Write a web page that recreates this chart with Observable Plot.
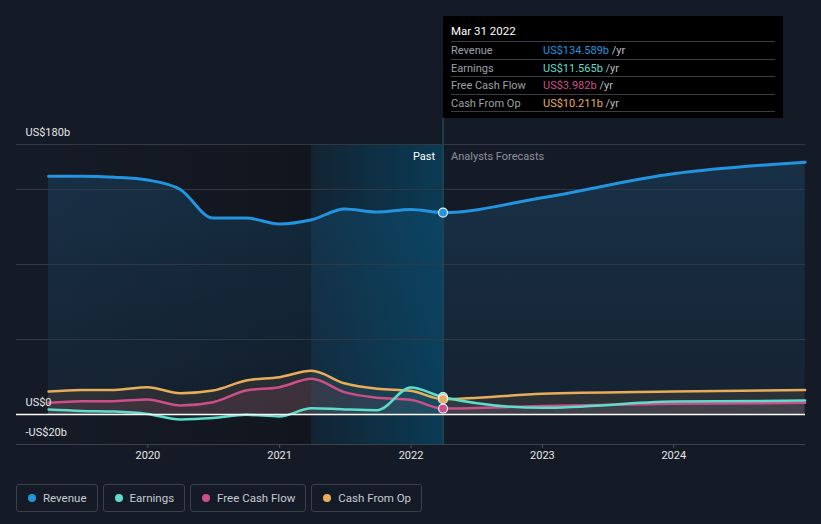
<!DOCTYPE html>
<html>
<head>
<meta charset="utf-8">
<script src="https://cdn.jsdelivr.net/npm/d3@7"></script>
<script src="https://cdn.jsdelivr.net/npm/@observablehq/plot@0.6"></script>
<style>
  html, body { margin: 0; padding: 0; background: #151b26; }
  body { font-family: Roboto, "Noto Sans", sans-serif; }
  #wrap { position: relative; width: 821px; height: 524px; overflow: hidden; }
  #tip { position: absolute; left: 443px; top: 16px; width: 340px; height: 102px; background: #000; box-sizing: border-box; padding: 7px 8px 0 8px; font-size: 11px; }
  #tip .title { color: #fff; height: 16px; line-height: 16px; margin-bottom: 2px; font-size: 11.5px; }
  #tip .row { height: 17.5px; line-height: 17px; border-top: 1px solid #3a3d42; box-sizing: border-box; display: flex; }
  #tip .row:last-child { border-bottom: 1px solid #3a3d42; height: 18.5px; }
  #tip .lab { width: 92px; color: #9ca0a7; }
  #tip .unit { color: #b8bcc2; }
  #legend { position: absolute; left: 16px; top: 484px; display: flex; gap: 5px; }
  #legend .item { height: 28px; box-sizing: border-box; border: 1px solid #3a3f48; border-radius: 3px; display: flex; align-items: center; padding: 0 10px 0 11px; color: #c6cad1; font-size: 11.5px; }
  #legend .dot { width: 8px; height: 8px; border-radius: 50%; margin-right: 7px; }
</style>
</head>
<body>
<div id="wrap">
  <div id="chart"></div>
  <div id="tip"></div>
  <div id="legend"></div>
</div>
<script>
// ---- data (US$ billions) ----
const dates = [
  "2019-03-31", "2019-06-30", "2019-09-30", "2019-12-31",
  "2020-03-31", "2020-06-30", "2020-09-30", "2020-12-31",
  "2021-03-31", "2021-06-30", "2021-09-30", "2021-12-31",
  "2022-03-31",
  "2022-12-31", "2023-12-31", "2024-12-31"
];
const revenue      = [158.9, 158.9, 158.2, 156.3, 150.0, 131.0, 131.0, 127.0, 129.8, 137.0, 135.0, 136.6, 134.589, 144.5, 160.5, 168.2];
const earnings     = [3.3, 2.4, 2.0, 0.4, -3.3, -2.4, -0.2, -1.3, 4.2, 3.4, 2.9, 18.0, 11.565, 4.5, 8.6, 9.3];
const freeCashFlow = [7.8, 8.9, 8.9, 10.0, 6.0, 8.2, 16.0, 18.2, 23.8, 14.9, 11.1, 9.8, 3.982, 5.6, 7.1, 7.8];
const cashFromOp   = [15.3, 16.4, 16.4, 18.2, 14.2, 16.0, 22.7, 24.9, 29.1, 20.8, 17.1, 15.8, 10.211, 13.8, 15.3, 16.4];

const seriesNames = ["Revenue", "Earnings", "Free Cash Flow", "Cash From Op"];
const seriesColors = ["#2394df", "#5fdccb", "#cc4f8a", "#e8ad5a"];
const yTickValues = [180, 0, -20];
const yTickLabels = ["US$180b", "US$0", "-US$20b"];
const gridValues = [50, 100, 150, 180];
const xTickDates = ["2020-01-01", "2021-01-01", "2022-01-01", "2023-01-01", "2024-01-01"];
const xDomain = ["2019-01-01", "2025-01-01"];
const pastIndex = 12;      // Mar 31 2022 (last reported)
const bandStartIndex = 8;  // Mar 31 2021
const tipTitle = "Mar 31 2022";
const tipValues = ["US$134.589b", "US$11.565b", "US$3.982b", "US$10.211b"];

// ---- build table ----
const parse = d3.utcParse("%Y-%m-%d");
const table = dates.map((d, i) => ({
  date: parse(d),
  revenue: revenue[i], earnings: earnings[i], fcf: freeCashFlow[i], cfo: cashFromOp[i]
}));
const current = table[pastIndex];
const bandStart = table[bandStartIndex].date;
const keys = ["revenue", "earnings", "fcf", "cfo"];
const curve = "monotone-x";

const marks = [
  // past darkening
  Plot.rect([0], {x1: table[0].date, x2: bandStart, y1: -20, y2: 180, fill: "url(#pastGrad)"}),
  // areas
  Plot.areaY(table, {x: "date", y: "revenue", curve, fill: "url(#revGrad)"}),
  Plot.areaY(table, {x: "date", y: "cfo", curve, fill: seriesColors[3], fillOpacity: 0.1}),
  Plot.areaY(table, {x: "date", y: "fcf", curve, fill: seriesColors[2], fillOpacity: 0.12}),
  Plot.areaY(table, {x: "date", y: "earnings", curve, fill: seriesColors[1], fillOpacity: 0.08}),
  // highlighted last-year band
  Plot.rect([0], {x1: bandStart, x2: current.date, y1: -20, y2: 180, fill: "url(#bandGrad)"}),
  // grid
  Plot.ruleY(gridValues, {stroke: "#323843", strokeWidth: 1}),
  Plot.ruleY([-20], {stroke: "#3c424c", strokeWidth: 1}),
  // vertical marker line
  Plot.ruleX([current.date], {y1: -20, y2: 197.3, stroke: "#1d4a5b", strokeWidth: 1.5}),
  // lines
  Plot.lineY(table, {x: "date", y: "cfo", curve, stroke: seriesColors[3], strokeWidth: 2.5}),
  Plot.lineY(table, {x: "date", y: "fcf", curve, stroke: seriesColors[2], strokeWidth: 2.5}),
  Plot.lineY(table, {x: "date", y: "earnings", curve, stroke: seriesColors[1], strokeWidth: 2.5}),
  Plot.lineY(table, {x: "date", y: "revenue", curve, stroke: seriesColors[0], strokeWidth: 3}),
  Plot.ruleY([0], {stroke: "#ffffff", strokeWidth: 1.5}),
  // dots at current date
  ...[1, 3, 2, 0].map(k => Plot.dot([current], {x: "date", y: keys[k], r: 4.5, fill: seriesColors[k], stroke: "#e8eef5", strokeWidth: 1.2})),
  // y labels
  Plot.text(yTickValues, {y: d => d, text: (d, i) => yTickLabels[i], frameAnchor: "left", dx: 9, dy: -12, textAnchor: "start", fill: "#e6e6e6", fontSize: 11}),
  // Past / forecast labels
  Plot.text([current], {x: "date", y: () => 180, text: () => "Past", dx: -8, dy: 12, textAnchor: "end", fill: "#ffffff", fontSize: 11}),
  Plot.text([current], {x: "date", y: () => 180, text: () => "Analysts Forecasts", dx: 8, dy: 12, textAnchor: "start", fill: "#8c9199", fontSize: 11}),
  // x axis
  Plot.axisX({ticks: xTickDates.map(parse), tickFormat: d3.utcFormat("%Y"), tickSize: 4, tickPadding: 3, stroke: "#4b515b", fill: "#e6e6e6", fontSize: 11, label: null})
];

const svg = Plot.plot({
  width: 821,
  height: 470,
  marginLeft: 16,
  marginRight: 16,
  marginTop: 144,
  marginBottom: 26,
  style: {background: "transparent", color: "#e6e6e6", fontFamily: "Roboto, sans-serif", fontSize: "11px"},
  x: {type: "utc", domain: xDomain.map(parse)},
  y: {domain: [-20, 180], axis: null},
  marks
});

const defs = d3.select(svg).insert("defs", ":first-child");
function grad(id, x2, y2, stops) {
  const g = defs.append("linearGradient").attr("id", id).attr("x1", 0).attr("y1", 0).attr("x2", x2).attr("y2", y2);
  stops.forEach(([o, c, a]) => g.append("stop").attr("offset", o).attr("stop-color", c).attr("stop-opacity", a));
}
grad("revGrad", 0, 1, [[0, "#2394df", 0.18], [1, "#2394df", 0.06]]);
grad("pastGrad", 1, 0, [[0, "#000000", 0], [1, "#000000", 0.22]]);
grad("bandGrad", 1, 0, [[0, "#00587f", 0.15], [1, "#00587f", 0.52]]);

document.getElementById("chart").appendChild(svg);

// tooltip
const tip = d3.select("#tip");
tip.append("div").attr("class", "title").text(tipTitle);
seriesNames.forEach((n, i) => {
  const r = tip.append("div").attr("class", "row");
  r.append("span").attr("class", "lab").text(n);
  r.append("span").style("color", seriesColors[i]).text(tipValues[i]);
  r.append("span").attr("class", "unit").html("&nbsp;/yr");
});

// legend
const leg = d3.select("#legend");
seriesNames.forEach((n, i) => {
  const it = leg.append("div").attr("class", "item");
  it.append("span").attr("class", "dot").style("background", seriesColors[i]);
  it.append("span").text(n);
});
</script>
</body>
</html>
